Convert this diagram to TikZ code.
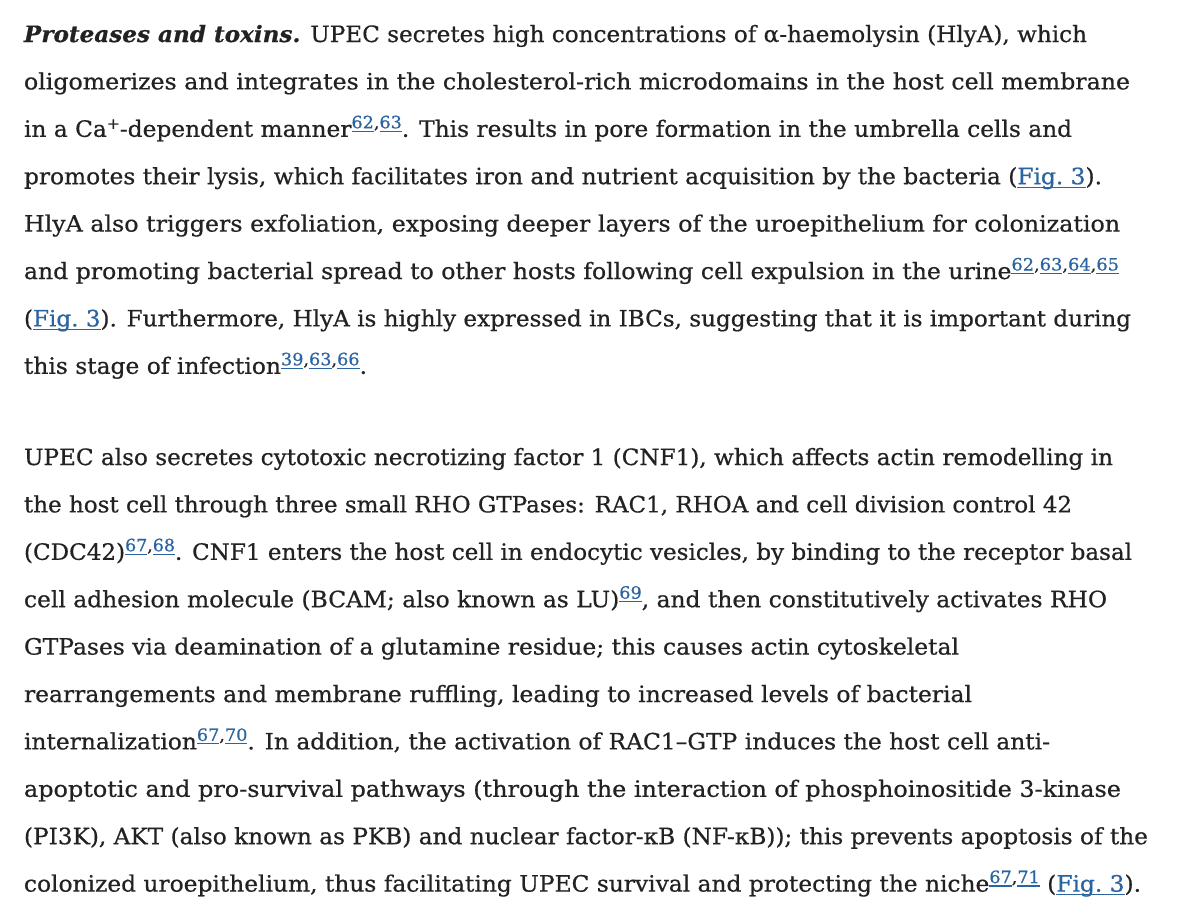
\documentclass[tikz,border=0pt]{standalone}
\usepackage{fontspec}
\setmainfont{DejaVu Serif}[FakeBold=0.6]
\usepackage{graphicx}
\definecolor{textc}{HTML}{222222}
\definecolor{link}{HTML}{2B64A0}
\newcommand\lk[2][-3.5pt]{{\color{link}\setbox0\hbox{#2}\rlap{\rule[#1]{\wd0}{1.2pt}}\box0}}
\newcommand\rf[1]{\raisebox{8.5pt}{\fontsize{17pt}{17pt}\selectfont #1}}
\newcommand\plusup{\raisebox{8pt}{\fontsize{15pt}{15pt}\selectfont +}}
\newcommand\fitw[2]{\resizebox{#1pt}{\height}{#2}}
\begin{document}
\begin{tikzpicture}[x=1pt,y=-1pt,
  txt/.style={anchor=base west, inner sep=0pt, outer sep=0pt, text=textc,
    font=\fontsize{22.5pt}{26pt}\selectfont}]
\fill[white] (0,0) rectangle (1186,918);
\useasboundingbox (0,0) rectangle (1186,918);
% paragraph 1
\node[txt] (l1) at (24,42) {\fitw{1063}{{\bfseries\itshape Proteases and toxins.} UPEC secretes high concentrations of α-haemolysin (HlyA), which}};
\node[txt] (l2) at (24,89.4) {\fitw{1106}{oligomerizes and integrates in the cholesterol-rich microdomains in the host cell membrane}};
\node[txt] (l3) at (24,136.8) {\fitw{1048}{in a Ca\plusup-dependent manner\rf{\lk{62},\lk{63}}. This results in pore formation in the umbrella cells and}};
\node[txt] (l4) at (24,184.2) {\fitw{1078}{promotes their lysis, which facilitates iron and nutrient acquisition by the bacteria (\lk{Fig.~3}).}};
\node[txt] (l5) at (24,231.6) {\fitw{1096}{HlyA also triggers exfoliation, exposing deeper layers of the uroepithelium for colonization}};
\node[txt] (l6) at (24,279) {\fitw{1095}{and promoting bacterial spread to other hosts following cell expulsion in the urine\rf{\lk{62},\lk{63},\lk{64},\lk{65}}}};
\node[txt] (l7) at (24,326.4) {\fitw{1107}{(\lk{Fig.~3}). Furthermore, HlyA is highly expressed in IBCs, suggesting that it is important during}};
\node[txt] (l8) at (24,373.8) {\fitw{343}{this stage of infection\rf{\lk{39},\lk{63},\lk{66}}.}};
% paragraph 2
\node[txt] (m1) at (24,465) {\fitw{1089}{UPEC also secretes cytotoxic necrotizing factor 1 (CNF1), which affects actin remodelling in}};
\node[txt] (m2) at (24,512.4) {\fitw{1048}{the host cell through three small RHO GTPases: RAC1, RHOA and cell division control 42}};
\node[txt] (m3) at (24,559.8) {\fitw{1108}{(CDC42)\rf{\lk{67},\lk{68}}. CNF1 enters the host cell in endocytic vesicles, by binding to the receptor basal}};
\node[txt] (m4) at (24,607.2) {\fitw{1083}{cell adhesion molecule (BCAM; also known as LU)\rf{\lk{69}}, and then constitutively activates RHO}};
\node[txt] (m5) at (24,654.6) {\fitw{935}{GTPases via deamination of a glutamine residue; this causes actin cytoskeletal}};
\node[txt] (m6) at (24,702) {\fitw{948}{rearrangements and membrane ruffling, leading to increased levels of bacterial}};
\node[txt] (m7) at (24,749.4) {\fitw{1026}{internalization\rf{\lk{67},\lk{70}}. In addition, the activation of RAC1–GTP induces the host cell anti-}};
\node[txt] (m8) at (24,796.8) {\fitw{1097}{apoptotic and pro-survival pathways (through the interaction of phosphoinositide 3-kinase}};
\node[txt] (m9) at (24,844.2) {\fitw{1124}{(PI3K), AKT (also known as PKB) and nuclear factor-κB (NF-κB)); this prevents apoptosis of the}};
\node[txt] (m10) at (24,891.6) {\fitw{1117}{colonized uroepithelium, thus facilitating UPEC survival and protecting the niche\rf{\lk{67},\lk{71}} (\lk{Fig.~3}).}};
\end{tikzpicture}
\end{document}
